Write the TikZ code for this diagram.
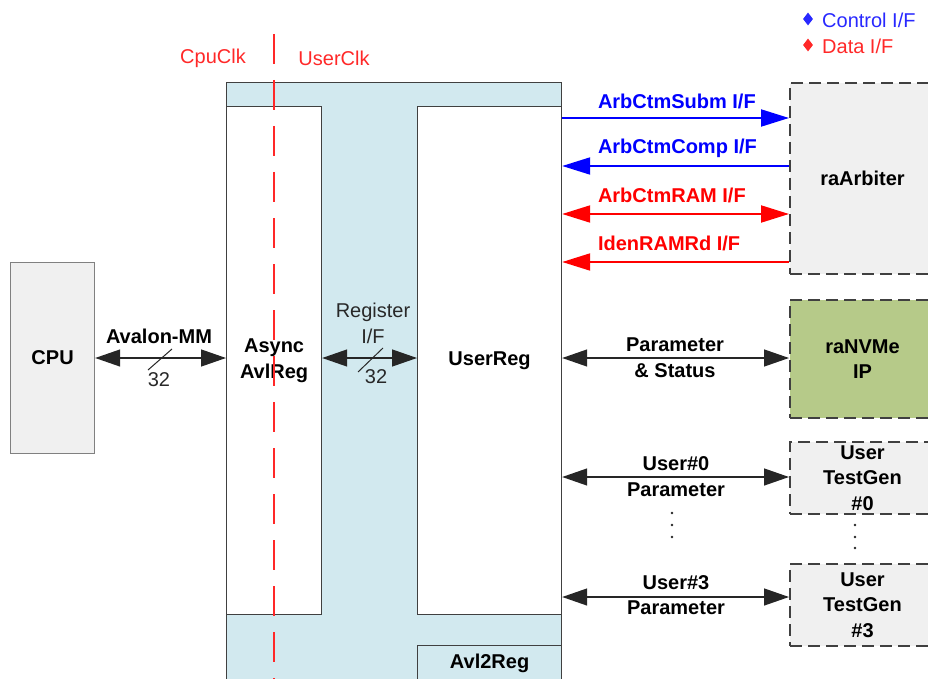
\documentclass[tikz,border=0pt]{standalone}
\usepackage{fontspec}
\setmainfont{Liberation Sans}
\usetikzlibrary{arrows.meta,shapes.geometric}
\definecolor{lblue}{RGB}{210,233,239}
\definecolor{lgray}{RGB}{240,240,240}
\definecolor{nvgreen}{RGB}{182,202,137}
\definecolor{bord}{RGB}{64,64,64}
\definecolor{ctlblue}{RGB}{0,0,255}
\definecolor{datred}{RGB}{255,0,0}
\definecolor{legblue}{RGB}{40,40,255}
\definecolor{clkred}{RGB}{255,40,40}
\definecolor{txtgray}{RGB}{40,40,40}
\tikzset{
  bt/.tip={Triangle[length=25pt,width=17pt]},
  ct/.tip={Triangle[length=28pt,width=17pt]},
}
\begin{document}
\begin{tikzpicture}[x=1pt,y=-1pt,
  every node/.style={font=\fontsize{20}{25.5}\selectfont, inner sep=0pt, align=center},
  bold/.style={font=\fontsize{20}{25.5}\selectfont\bfseries},
  blk/.style={draw=bord, line width=1.2pt, anchor=north west, bold},
  dbox/.style={draw=bord, line width=2pt, dash pattern=on 12pt off 6pt, fill=lgray, anchor=north west, bold},
  barrow/.style={draw=black!85, line width=1.3pt, bt-bt},
  carrow/.style={line width=2pt},
  slash/.style={draw=txtgray, line width=1pt},
  dot/.style={fill=black!85, circle, minimum size=2.8pt, inner sep=0pt},
  lgd/.style={diamond, minimum width=10pt, minimum height=13pt, inner sep=0pt},
]
\useasboundingbox (0,0) rectangle (928,679);
\clip (0,0) rectangle (928,679);

% main blocks
\node[blk, fill=lblue, minimum width=335, minimum height=640] (avl) at (226,82) {};
\node[blk, fill=white, minimum width=95, minimum height=508] (async) at (226,106) {Async\\AvlReg};
\node[blk, fill=white, minimum width=144, minimum height=508] (userreg) at (417,106) {UserReg};
\node[blk, fill=lblue, minimum width=144, minimum height=36] (avl2reg) at (417,645) {Avl2Reg};
\node[blk, draw=gray, fill=lgray, minimum width=84, minimum height=191] (cpu) at (10,262) {CPU};

% clock domain line
\draw[clkred, line width=2pt, dash pattern=on 30pt off 16pt] (274,34) -- (274,690);
\node[text=clkred] (cpuclk) at (213,58) {CpuClk};
\node[text=clkred] (userclk) at (334,58) {UserClk};

% right-hand blocks
\node[dbox, minimum width=145, minimum height=191] (arb) at (789,82) {raArbiter};
\node[dbox, fill=nvgreen, minimum width=145, minimum height=118] (nvme) at (789,299) {raNVMe\\IP};
\node[dbox, minimum width=145, minimum height=72] (tg0) at (789,441) {User\\TestGen\\\#0};
\node[dbox, minimum width=145, minimum height=82] (tg3) at (789,563) {User\\TestGen\\\#3};

% legend
\node[lgd, fill=legblue] (lgc) at (808,19) {};
\node[anchor=west, text=legblue] (lgct) at (822,20) {Control I/F};
\node[lgd, fill=clkred] (lgd) at (808,45) {};
\node[anchor=west, text=clkred] (lgdt) at (822,46) {Data I/F};

% left connectors
\draw[barrow] (cpu.east |- 0,358) -- (async.west |- 0,358)
  node[bold, anchor=center] (avlmm) at (159,336) {Avalon-MM}
  node[text=txtgray] (w32a) at (159,380) {32};
\draw[slash] (148,370) -- (172,349);
\draw[barrow] (async.east |- 0,358) -- (userreg.west |- 0,358)
  node[text=txtgray] (regif) at (373,323.5) {Register\\I/F}
  node[text=txtgray] (w32b) at (376,377) {32};
\draw[slash] (358,372) -- (383,348);

% control / data interfaces
\draw[carrow, ctlblue, -ct] (userreg.east |- 0,118) -- (arb.west |- 0,118)
  node[bold, anchor=west, text=ctlblue] (l1) at (597,101) {ArbCtmSubm I/F};
\draw[carrow, ctlblue, ct-] (userreg.east |- 0,166) -- (arb.west |- 0,166)
  node[bold, anchor=west, text=ctlblue] (l2) at (597,148) {ArbCtmComp I/F};
\draw[carrow, datred, ct-ct] (userreg.east |- 0,214) -- (arb.west |- 0,214)
  node[bold, anchor=west, text=datred] (l3) at (597,195) {ArbCtmRAM I/F};
\draw[carrow, datred, ct-] (userreg.east |- 0,262) -- (arb.west |- 0,262)
  node[bold, anchor=west, text=datred] (l4) at (597,243) {IdenRAMRd I/F};

% parameter connectors
\draw[barrow] (userreg.east |- 0,358) -- (nvme.west |- 0,358)
  node[bold] (ps) at (675,357.5) {Parameter\\\& Status};
\draw[barrow] (userreg.east |- 0,477) -- (tg0.west |- 0,477)
  node[bold] (up0) at (676,476.5) {User\#0\\Parameter};
\draw[barrow] (userreg.east |- 0,597) -- (tg3.west |- 0,597)
  node[bold] (up3) at (676,595) {User\#3\\Parameter};

% continuation dots
\node[dot] (d1) at (672,513) {};
\node[dot] (d2) at (672,525) {};
\node[dot] (d3) at (672,537) {};
\node[dot] (d4) at (855,525) {};
\node[dot] (d5) at (855,537) {};
\node[dot] (d6) at (855,548) {};
\end{tikzpicture}
\end{document}
